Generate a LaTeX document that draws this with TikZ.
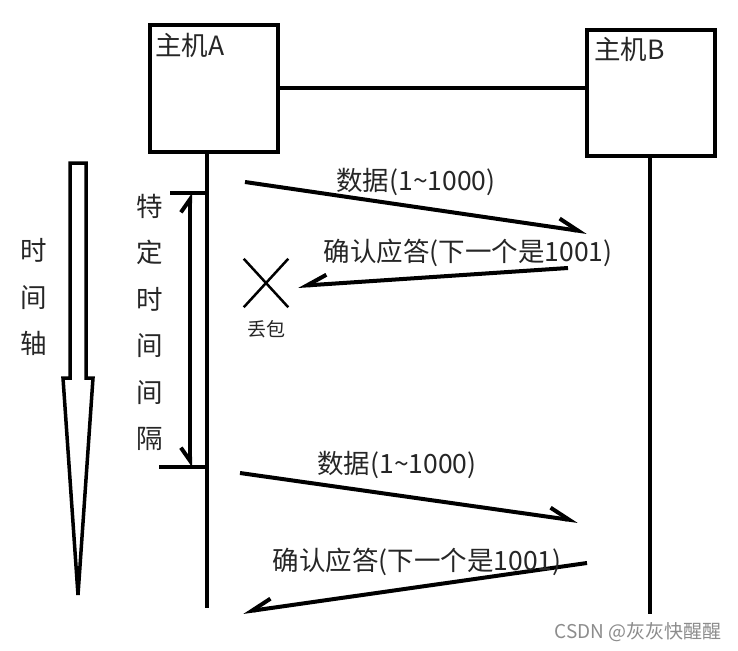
\documentclass[tikz,border=0pt]{standalone}
\usepackage{fontspec}
\setmainfont{Noto Sans CJK SC}
\usetikzlibrary{arrows.meta, positioning, shapes.misc}

\begin{document}
\begin{tikzpicture}[x=1pt, y=-1pt,
    host/.style={draw, line width=4pt, minimum width=128pt,
                 minimum height=127pt, inner sep=0pt},
    txt/.style={font=\fontsize{26.5}{46.5}\selectfont, inner sep=0pt,
                align=center, text=black!85},
    line/.style={line width=4pt},
    fwd/.style={line, -{Straight Barb[left, length=20pt, angle'=50]}},
    bwd/.style={line, -{Straight Barb[right, length=20pt, angle'=50]}},
  ]
    \useasboundingbox (0,0) rectangle (738,650);

    % hosts and link
    \node[host] (hostA) at (214,88.5) {};
    \node[host, minimum height=126pt] (hostB) at (651,93) {};
    \node[txt, anchor=north west] (nameA) at (155,33) {主机A};
    \node[txt, anchor=north west] (nameB) at (594,37) {主机B};
    \draw[line] (hostA.east) -- (hostA.east -| hostB.west);

    % lifelines
    \coordinate (aEnd) at (207,608);
    \coordinate (bEnd) at (650,614);
    \draw[line] (hostA.south -| aEnd) -- (aEnd);
    \draw[line] (hostB.south -| bEnd) -- (bEnd);

    % first round
    \coordinate (d1s) at (245,182);
    \coordinate (d1e) at (587,232);
    \coordinate (a1s) at (568,268);
    \coordinate (a1e) at (298,286);
    \draw[fwd] (d1s) -- (d1e);
    \draw[bwd] (a1s) -- (a1e);
    \node[txt] (dat1) at (416,182) {数据(1\textasciitilde1000)};
    \node[txt] (ack1) at (468,253) {确认应答(下一个是1001)};

    \node[draw, cross out, line width=2.5pt, minimum width=42pt,
          minimum height=46pt, inner sep=0pt] (lost) at (266,283) {};
    \node[font=\fontsize{19}{22}\selectfont, inner sep=0pt, text=black!85,
          below=13pt of lost] (lostTxt) {丢包};

    % second round
    \coordinate (d2s) at (240,473);
    \coordinate (d2e) at (578,521);
    \coordinate (a2s) at (587,563);
    \coordinate (a2e) at (243,612);
    \draw[fwd] (d2s) -- (d2e);
    \draw[bwd] (a2s) -- (a2e);
    \node[txt] (dat2) at (397,465) {数据(1\textasciitilde1000)};
    \node[txt] (ack2) at (417,562) {确认应答(下一个是1001)};

    % timeout interval
    \coordinate (gTop) at (170,193);
    \coordinate (gBot) at (159,467);
    \coordinate (gT) at (190,193);
    \coordinate (gB) at (190,467);
    \draw[line] (gTop) -- (gTop -| aEnd);
    \draw[line] (gBot) -- (gBot -| aEnd);
    \draw[line, {Straight Barb[left, length=13pt, angle'=70]}-{Straight Barb[right, length=13pt, angle'=70]}]
      (gT) -- (gB);
    \node[txt] (gapTxt) at (150,322.5) {特\\定\\时\\间\\间\\隔};

    % time axis
    \draw[line width=3.5pt, line join=miter]
      (70,163) -- (86,163) -- (86,378) -- (93,378) -- (78,595)
      -- (63,378) -- (70,378) -- cycle;
    \node[txt] (axisTxt) at (34,297) {时\\间\\轴};

    \node[font=\fontsize{19}{22}\selectfont, inner sep=0pt, text=black!45]
      (mark) at (638,632) {CSDN @灰灰快醒醒};
  \end{tikzpicture}
\end{document}
